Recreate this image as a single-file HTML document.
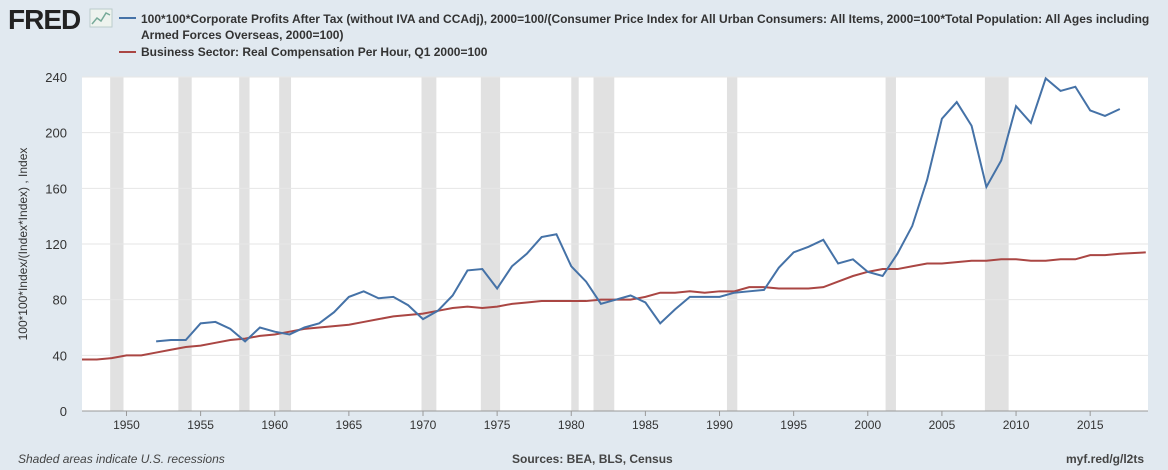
<!DOCTYPE html>
<html><head><meta charset="utf-8"><style>
body{margin:0;background:#e1e9f0;font-family:"Liberation Sans",Arial,sans-serif;}
#wrap{position:relative;width:1168px;height:470px;overflow:hidden;background:#e1e9f0;}
</style></head><body>
<div id="wrap">
<svg id="chart" width="1168" height="470">
<g>
<text x="8" y="29" font-size="28" font-weight="bold" fill="#222" letter-spacing="-1">FRED</text>
<rect x="90" y="9" width="22" height="18" fill="#eef3ee" stroke="#bcc"/>
<polyline points="92,24 97,18 101,21 106,13 110,15" fill="none" stroke="#7a9" stroke-width="1.5"/>
</g>
<g>
<line x1="119" y1="18" x2="136" y2="18" stroke="#4572a7" stroke-width="2"/>
<text x="141" y="23" font-size="12" font-weight="bold" fill="#333">100*100*Corporate Profits After Tax (without IVA and CCAdj), 2000=100/(Consumer Price Index for All Urban Consumers: All Items, 2000=100*Total Population: All Ages including</text>
<text x="141" y="39" font-size="12" font-weight="bold" fill="#333">Armed Forces Overseas, 2000=100)</text>
<line x1="119" y1="52" x2="136" y2="52" stroke="#aa4643" stroke-width="2"/>
<text x="141" y="56" font-size="12" font-weight="bold" fill="#333">Business Sector: Real Compensation Per Hour, Q1 2000=100</text>
</g>
<rect x="82" y="77" width="1066" height="334" fill="#fff"/>
<g id="rec"></g>
<g id="grid"></g>
<g id="series"></g>
<g id="axes"></g>
<text x="27" y="244" font-size="12" fill="#333" transform="rotate(-90 27 244)" text-anchor="middle">100*100*Index/(Index*Index) , Index</text>
<text x="18" y="463" font-size="12" font-style="italic" fill="#444">Shaded areas indicate U.S. recessions</text>
<text x="512" y="463" font-size="12" font-weight="bold" fill="#444">Sources: BEA, BLS, Census</text>
<text x="1144" y="463" font-size="12" font-weight="bold" fill="#444" text-anchor="end">myf.red/g/l2ts</text>
</svg>
</div>
<script>
const profitYears=[1952,1953,1954,1955,1956,1957,1958,1959,1960,1961,1962,1963,1964,1965,1966,1967,1968,1969,1970,1971,1972,1973,1974,1975,1976,1977,1978,1979,1980,1981,1982,1983,1984,1985,1986,1987,1988,1989,1990,1991,1992,1993,1994,1995,1996,1997,1998,1999,2000,2001,2002,2003,2004,2005,2006,2007,2008,2009,2010,2011,2012,2013,2014,2015,2016,2017];
const profitValues=[50,51,51,63,64,59,50,60,57,55,60,63,71,82,86,81,82,76,66,72,83,101,102,88,104,113,125,127,104,93,77,80,83,78,63,73,82,82,82,85,86,87,103,114,118,123,106,109,100,97,113,133,166,210,222,205,161,180,219,207,239,230,233,216,212,217];
const compYears=[1947,1948,1949,1950,1951,1952,1953,1954,1955,1956,1957,1958,1959,1960,1961,1962,1963,1964,1965,1966,1967,1968,1969,1970,1971,1972,1973,1974,1975,1976,1977,1978,1979,1980,1981,1982,1983,1984,1985,1986,1987,1988,1989,1990,1991,1992,1993,1994,1995,1996,1997,1998,1999,2000,2001,2002,2003,2004,2005,2006,2007,2008,2009,2010,2011,2012,2013,2014,2015,2016,2017,2018.75];
const compValues=[37,37,38,40,40,42,44,46,47,49,51,52,54,55,57,59,60,61,62,64,66,68,69,70,72,74,75,74,75,77,78,79,79,79,79,80,80,80,82,85,85,86,85,86,86,89,89,88,88,88,89,93,97,100,102,102,104,106,106,107,108,108,109,109,108,108,109,109,112,112,113,114];
const recStarts=[1948.9,1953.5,1957.6,1960.3,1969.9,1973.9,1980.0,1981.5,1990.5,2001.2,2007.9];
const recEnds=[1949.8,1954.4,1958.3,1961.1,1970.9,1975.2,1980.5,1982.9,1991.2,2001.9,2009.5];
const yTicks=[0,40,80,120,160,200,240];
const xTicks=[1950,1955,1960,1965,1970,1975,1980,1985,1990,1995,2000,2005,2010,2015];
const NS='http://www.w3.org/2000/svg';
const X0=82,X1=1148,Y0=411,Y1=77,YMIN=1947,YMAX=2018.9;
function xs(v){return X0+(v-YMIN)/(YMAX-YMIN)*(X1-X0);}
function ys(v){return Y0-(v/240)*(Y0-Y1);}
function mk(t,a,p){const e=document.createElementNS(NS,t);for(const k in a)e.setAttribute(k,a[k]);p.appendChild(e);return e;}
const rec=document.getElementById('rec'),grid=document.getElementById('grid'),ser=document.getElementById('series'),ax=document.getElementById('axes');
recStarts.forEach((s,i)=>{const r=mk('rect',{x:xs(s),y:Y1,width:xs(recEnds[i])-xs(s),height:Y0-Y1,fill:'#e1e1e1'},rec);

});
yTicks.forEach(t=>{if(t>0){const l=mk('line',{x1:X0,x2:X1,y1:ys(t),y2:ys(t),stroke:'#e6e6e6','stroke-width':1},grid);

}
const tx=mk('text',{x:67,y:ys(t)+5,'font-size':13,fill:'#333','text-anchor':'end'},ax);tx.textContent=t;

});
xTicks.forEach(t=>{const l=mk('line',{x1:xs(t),x2:xs(t),y1:Y0,y2:Y0+5,stroke:'#999'},ax);


const tx=mk('text',{x:xs(t),y:429,'font-size':12,fill:'#333','text-anchor':'middle'},ax);tx.textContent=t;

});
const base=mk('line',{x1:X0,x2:X1,y1:Y0,y2:Y0,stroke:'#999'},ax);


const cp=mk('polyline',{points:compYears.map((y,i)=>xs(y)+','+ys(compValues[i])).join(' '),fill:'none',stroke:'#aa4643','stroke-width':2},ser);


const pp=mk('polyline',{points:profitYears.map((y,i)=>xs(y)+','+ys(profitValues[i])).join(' '),fill:'none',stroke:'#4572a7','stroke-width':2},ser);


</script>
</body></html>
